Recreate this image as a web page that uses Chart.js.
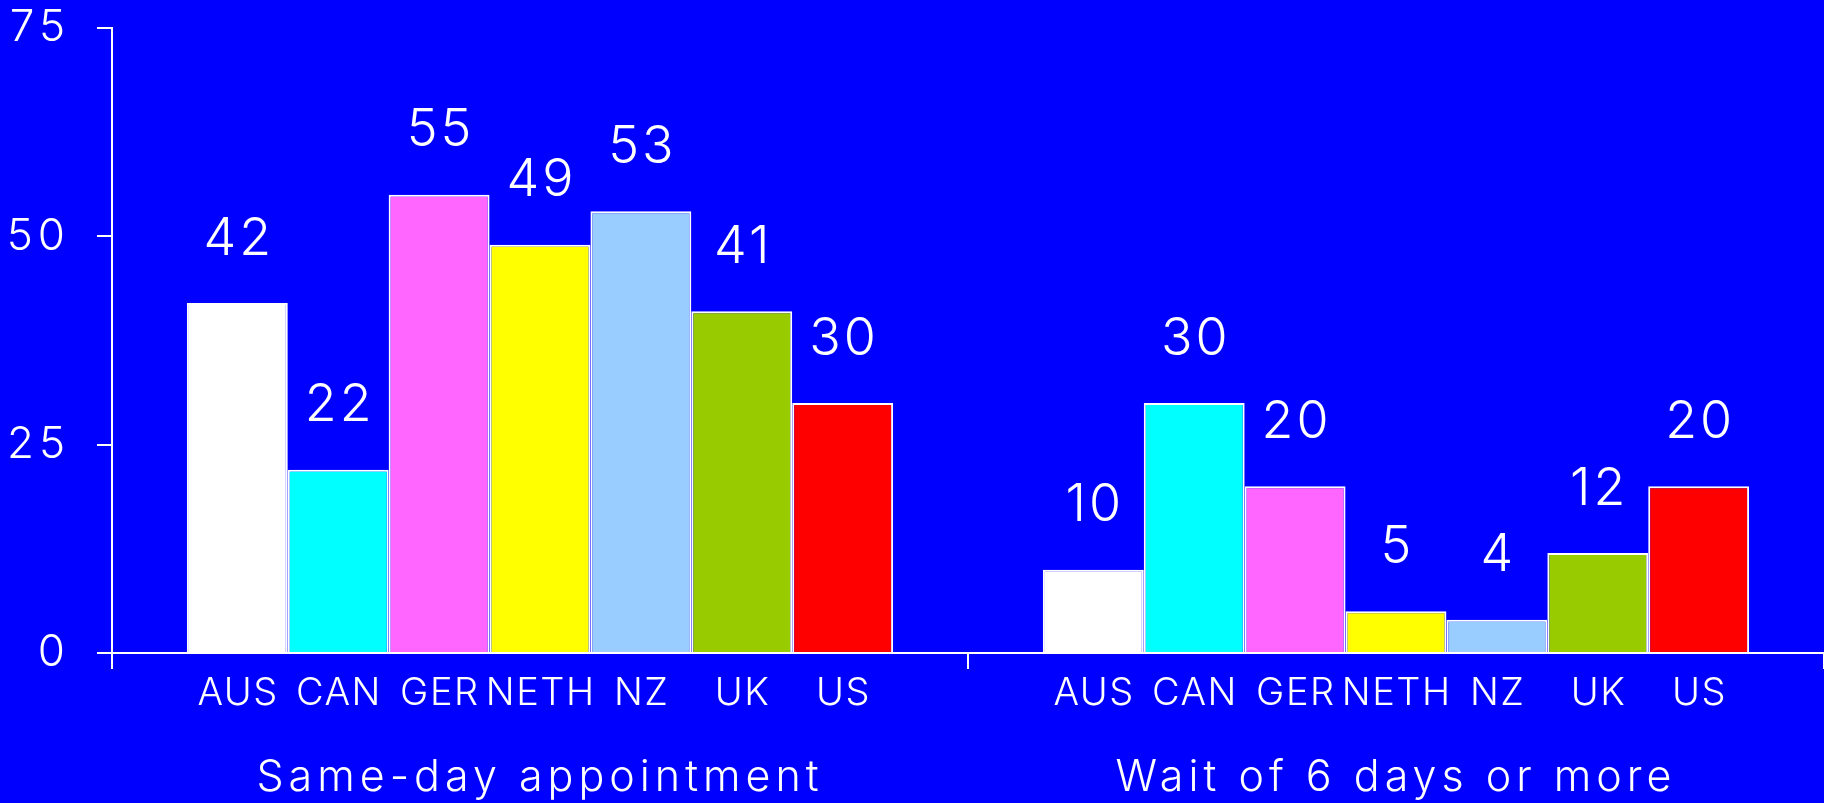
<!DOCTYPE html>
<html>
<head>
<meta charset="utf-8">
<title>Appointment waiting times</title>
<script src="https://cdn.jsdelivr.net/npm/chart.js@4.4.1/dist/chart.umd.min.js"></script>
<style>
  html, body { margin: 0; padding: 0; background: #0000ff; }
  #wrap { width: 1824px; height: 803px; position: relative; }
</style>
</head>
<body>
<div id="wrap"><canvas id="chart"></canvas></div>
<script>
const groups = ['Same-day appointment', 'Wait of 6 days or more'];
const countries = ['AUS', 'CAN', 'GER', 'NETH', 'NZ', 'UK', 'US'];
const sameDay = [42, 22, 55, 49, 53, 41, 30];
const waitSixDays = [10, 30, 20, 5, 4, 12, 20];
const yTicks = [0, 25, 50, 75];
const countryColors = ['#ffffff', '#00ffff', '#ff66ff', '#ffff00', '#99ccff', '#99cc00', '#ff0000'];

const FONT = 'Inter, "Liberation Sans", Arial, sans-serif';

// wide tracking on the axis text
const tracking = {
  id: 'tracking',
  beforeDraw(chart) { chart.ctx.letterSpacing = '5px'; },
  afterDraw(chart) { chart.ctx.letterSpacing = '0px'; }
};

// value above each bar, country name under it
const barText = {
  id: 'barText',
  afterDatasetsDraw(chart) {
    const ctx = chart.ctx;
    const bottom = chart.chartArea.bottom;
    ctx.save();
    ctx.fillStyle = '#ffffff';
    ctx.textAlign = 'center';
    ctx.textBaseline = 'middle';
    chart.data.datasets.forEach((ds, i) => {
      chart.getDatasetMeta(i).data.forEach((bar, j) => {
        ctx.font = '300 52px ' + FONT;
        ctx.letterSpacing = '3px';
        ctx.fillText(String(ds.data[j]), bar.x + 1.5, bar.y - 64);
        ctx.font = '300 38px ' + FONT;
        ctx.letterSpacing = '1.5px';
        ctx.fillText(ds.label, bar.x + 0.75, bottom + 41);
      });
    });
    ctx.restore();
  }
};

new Chart(document.getElementById('chart'), {
  type: 'bar',
  data: {
    labels: groups,
    datasets: countries.map((c, i) => ({
      label: c,
      data: [sameDay[i], waitSixDays[i]],
      backgroundColor: countryColors[i],
      borderColor: '#ffffff',
      borderWidth: 2,
      borderSkipped: 'bottom',
      categoryPercentage: 0.825,
      barPercentage: 1
    }))
  },
  options: {
    responsive: true,
    maintainAspectRatio: false,
    animation: false,
    layout: { padding: { top: 28, right: 0, bottom: 0, left: 0 } },
    plugins: {
      legend: { display: false },
      tooltip: { enabled: false }
    },
    scales: {
      x: {
        grid: {
          drawOnChartArea: false,
          color: '#ffffff',
          lineWidth: 2,
          tickLength: 16,
          tickColor: '#ffffff',
          tickWidth: 2
        },
        border: { color: '#ffffff', width: 2 },
        ticks: { color: '#ffffff', font: { family: FONT, size: 43, weight: 300 }, padding: 83, maxRotation: 0 },
        afterFit(scale) {
          scale.height = 150;
          scale.paddingLeft = 0;
          scale.paddingRight = 0;
        }
      },
      y: {
        min: 0,
        max: 75,
        afterBuildTicks(scale) { scale.ticks = yTicks.map(v => ({ value: v })); },
        grid: {
          drawOnChartArea: false,
          color: '#ffffff',
          lineWidth: 2,
          tickLength: 15,
          tickColor: '#ffffff',
          tickWidth: 2
        },
        border: { color: '#ffffff', width: 2 },
        ticks: { color: '#ffffff', font: { family: FONT, size: 44, weight: 300 }, padding: 27 },
        afterFit(scale) {
          scale.width = 112;
          scale.paddingTop = 0;
          scale.paddingBottom = 0;
        }
      }
    }
  },
  plugins: [tracking, barText]
});
</script>
</body>
</html>
